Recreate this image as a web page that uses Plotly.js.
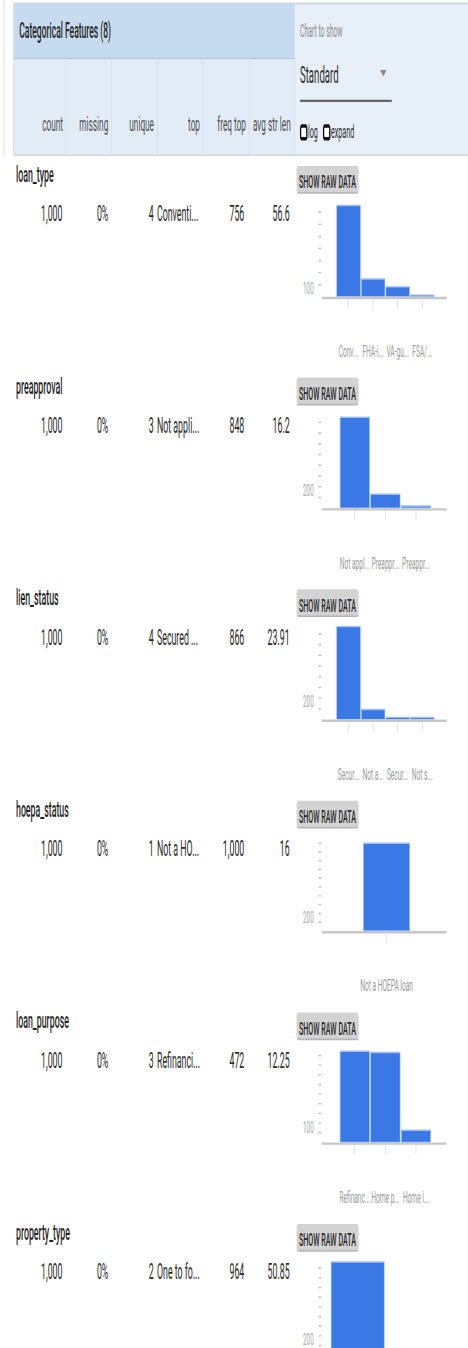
<!DOCTYPE html>
<html><head><meta charset="utf-8">
<script src="https://cdn.plot.ly/plotly-3.0.1.min.js"></script>
<style>
html,body{margin:0;padding:0;background:#fff;overflow:hidden;width:468px;height:1348px;}
#stage{position:absolute;left:0;top:0;transform-origin:0 0;overflow:hidden;font-family:Roboto,"Open Sans",sans-serif;}
.chart{position:absolute;z-index:1;}
#ov{position:absolute;left:0;top:0;z-index:2;pointer-events:none;}
</style></head><body>
<div id="stage"><svg id="ov" xmlns="http://www.w3.org/2000/svg"></svg></div>
<script>
// ---------- data ----------
const sectionTitle = 'Categorical Features (8)';
const columnHeaders = ['count', 'missing', 'unique', 'top', 'freq top', 'avg str len'];
const featureNames = ['loan_type', 'preapproval', 'lien_status', 'hoepa_status', 'loan_purpose', 'property_type'];
const countVals = [1000, 1000, 1000, 1000, 1000, 1000];
const missingVals = ['0%', '0%', '0%', '0%', '0%', '0%'];
const uniqueVals = [4, 3, 4, 1, 3, 2];
const topVals = ['Conventi...', 'Not appli...', 'Secured ...', 'Not a HO...', 'Refinanci...', 'One to fo...'];
const freqTopVals = [756, 848, 866, 1000, 472, 964];
const avgStrLenVals = ['56.6', '16.2', '23.91', '16', '12.25', '50.85'];

const loanTypeCats = ['Conventional', 'FHA-insured', 'VA-guaranteed', 'FSA/RHS'];
const loanTypeLabels = ['Conv...', 'FHA-i...', 'VA-gu...', 'FSA/...'];
const loanTypeCounts = [756, 148, 82, 14];

const preapprovalCats = ['Not applicable', 'Preapproval was not requested', 'Preapproval was requested'];
const preapprovalLabels = ['Not appl...', 'Preappr...', 'Preappr...'];
const preapprovalCounts = [848, 131, 21];

const lienCats = ['Secured by a first lien', 'Not applicable', 'Secured by a subordinate lien', 'Not secured by a lien'];
const lienLabels = ['Secur...', 'Not a...', 'Secur...', 'Not s...'];
const lienCounts = [866, 94, 21, 19];

const hoepaCats = ['Not a HOEPA loan'];
const hoepaLabels = ['Not a HOEPA loan'];
const hoepaCounts = [1000];

const purposeCats = ['Refinancing', 'Home purchase', 'Home improvement'];
const purposeLabels = ['Refinanc...', 'Home p...', 'Home i...'];
const purposeCounts = [472, 465, 63];

const propertyCats = ['One to four-family (other than manufactured home)', 'Manufactured housing'];
const propertyLabels = ['One to...', 'Manufa...'];
const propertyCounts = [964, 36];

const yAxisMax = [800, 900, 900, 1100, 500, 1000];
const yMinorStep = [100, 100, 100, 100, 50, 100];
const yLabelTick = [100, 200, 200, 200, 100, 200];

const chartCats = [loanTypeCats, preapprovalCats, lienCats, hoepaCats, purposeCats, propertyCats];
const chartLabels = [loanTypeLabels, preapprovalLabels, lienLabels, hoepaLabels, purposeLabels, propertyLabels];
const chartCounts = [loanTypeCounts, preapprovalCounts, lienCounts, hoepaCounts, purposeCounts, propertyCounts];

// ---------- layout constants (final-pixel space) ----------
const SX = 0.55, SY = 1.4;
const W = 468 / SX, H = 1348 / SY;
const xRanges = [[-1.09, 3.99], [-1.08, 3.0], [-1.09, 3.99], [-1.08, 1.0], [-1.08, 3.0], [-0.65, 1.61]];
const barWidths = [0.96, 0.96, 0.96, 0.77, 0.96, 0.96];
const ROW_PITCH = 211.6, FIRST_BASE = 296;

const stage = document.getElementById('stage');
stage.style.width = W + 'px';
stage.style.height = H + 'px';
stage.style.transform = 'scale(' + SX + ',' + SY + ')';

const NS = 'http://www.w3.org/2000/svg';
const svg = document.getElementById('ov');
svg.setAttribute('width', W);
svg.setAttribute('height', H);

function el(tag, attrs) {
  const e = document.createElementNS(NS, tag);
  for (const k in attrs) e.setAttribute(k, attrs[k]);
  svg.appendChild(e);
  return e;
}
function rect(xf, yf, wf, hf, fill, extra) {
  return el('rect', Object.assign({x: xf / SX, y: yf / SY, width: wf / SX, height: hf / SY, fill: fill}, extra || {}));
}
function line(x1, y1, x2, y2, stroke, w) {
  return el('line', {x1: x1 / SX, y1: y1 / SY, x2: x2 / SX, y2: y2 / SY, stroke: stroke, 'stroke-width': w || 1});
}
function txt(s, xf, yf, o) {
  o = o || {};
  const t = el('text', {x: xf / SX, y: yf / SY, 'text-anchor': o.anchor || 'start', 'font-size': o.size || 15,
    'font-weight': o.weight || 400, fill: o.color || '#333', 'font-family': 'Roboto, sans-serif'});
  t.textContent = s;
  return t;
}

// ---------- header ----------
rect(13.3, 3.3, 468 - 13.3, 151.7, '#e7eff9');
rect(13.3, 3.3, 281.4, 55, '#c6dbef');
rect(13.3, 58.3, 281.4, 96.7, '#e2ecf7');
line(13.3, 3.3, 468, 3.3, '#cfd9e3', 1.2);
line(13.3, 58.3, 294.7, 58.3, '#b7cde3', 1.2);
line(13.3, 155, 468, 155, '#d6dde4', 1.5);
line(4, 0, 4, 156, '#e6e6e6', 2);
const colSeps = [13.3, 65.7, 111.7, 157.3, 203, 249, 294.7];
colSeps.forEach(x => line(x, 58.3, x, 155, '#d3dfeb', 1.5));
txt(sectionTitle, 19.3, 38.5, {size: 15.5, weight: 500, color: '#262626'});
const headerRight = [63, 108.3, 154, 200, 246, 290.7];
columnHeaders.forEach((h, i) => txt(h, headerRight[i], 131, {size: 15, anchor: 'end', color: '#4f4f4f'}));

txt('Chart to show', 300, 37.5, {size: 12.5, color: '#8c8c8c'});
txt('Standard', 300, 83, {size: 17.5, color: '#2e2e2e'});
el('polygon', {points: [[380, 70], [386.5, 70], [383.25, 76.5]].map(p => (p[0] / SX) + ',' + (p[1] / SY)).join(' '), fill: '#8a8a8a'});
line(300, 100.8, 391.7, 100.8, '#666', 1.6);
rect(300.6, 126, 6.2, 12.8, '#fff', {stroke: '#111', 'stroke-width': 2.4, rx: 2});
txt('log', 308, 138.5, {size: 13, color: '#2e2e2e'});
rect(323.6, 126, 6.2, 12.8, '#fff', {stroke: '#111', 'stroke-width': 2.4, rx: 2});
txt('expand', 331, 138.5, {size: 13, color: '#2e2e2e'});

// ---------- rows ----------
featureNames.forEach((name, i) => {
  const B = FIRST_BASE + ROW_PITCH * i;
  txt(name, 16, B - 114, {size: 16, weight: 500, color: '#1f1f1f'});
  const vy = B - 74.5;
  const vo = {size: 16, anchor: 'end', color: '#2a2a2a'};
  txt(countVals[i].toLocaleString('en-US'), 62.5, vy, vo);
  txt(missingVals[i], 108.3, vy, vo);
  txt(String(uniqueVals[i]), 153.8, vy, vo);
  txt(topVals[i], 157, vy, Object.assign({}, vo, {anchor: 'start'}));
  txt(freqTopVals[i].toLocaleString('en-US'), 244.3, vy, vo);
  txt(avgStrLenVals[i], 289.7, vy, vo);

  // button
  rect(296.9, B - 129.2, 61.4, 27, '#b5b5b5', {rx: 2.5});
  rect(296.7, B - 130, 61.6, 26.2, '#d3d3d3', {rx: 2.5});
  txt('SHOW RAW DATA', 327.5, B - 107.5, {size: 13, weight: 500, anchor: 'middle', color: '#2a2a2a'});

  // chart
  const div = document.createElement('div');
  div.className = 'chart';
  const topF = B - 110, leftF = 290, wF = 178, hF = 180;
  div.style.left = (leftF / SX) + 'px';
  div.style.top = (topF / SY) + 'px';
  stage.insertBefore(div, svg);
  const cats = chartCats[i];
  const ticks = [];
  for (let v = yMinorStep[i]; v < yAxisMax[i]; v += yMinorStep[i]) ticks.push(v);
  const labelsOnPage = B + 58 < 1348;
  Plotly.newPlot(div, [{
    type: 'bar', x: cats, y: chartCounts[i], width: barWidths[i],
    marker: {color: '#3a78e6', line: {color: '#9cc0f7', width: 1}},
    hoverinfo: 'skip'
  }], {
    width: wF / SX, height: hF / SY,
    margin: {l: 31.7 / SX, r: 21.3 / SX, t: (B - 96.5 - topF) / SY, b: 70 / SY, pad: 0},
    paper_bgcolor: 'rgba(0,0,0,0)', plot_bgcolor: 'rgba(0,0,0,0)',
    showlegend: false,
    font: {family: 'Roboto, sans-serif'},
    xaxis: {type: 'category', range: xRanges[i], tickvals: cats, ticktext: chartLabels[i],
      showticklabels: labelsOnPage,
      ticks: 'outside', ticklen: 7, tickcolor: '#cfcfcf', tickwidth: 1,
      showline: true, linecolor: '#c6c6c6', linewidth: 1.7, showgrid: false, zeroline: false,
      tickfont: {size: 12, color: '#9a9a9a'}, ticklabelstandoff: 20, tickangle: 0, fixedrange: true},
    yaxis: {range: [0, yAxisMax[i]], tickvals: ticks, showticklabels: false, ticks: 'outside', ticklen: 5,
      tickcolor: '#bdbdbd', tickwidth: 1, showgrid: false, zeroline: false, showline: false, fixedrange: true},
    annotations: [{xref: 'paper', x: 0, yref: 'y', y: yLabelTick[i], text: String(yLabelTick[i]), showarrow: false,
      xanchor: 'right', yanchor: 'middle', xshift: -13, yshift: -2.7, font: {size: 11.5, color: '#a8a8a8'}}]
  }, {staticPlot: true, displayModeBar: false});
});
</script>
</body></html>
